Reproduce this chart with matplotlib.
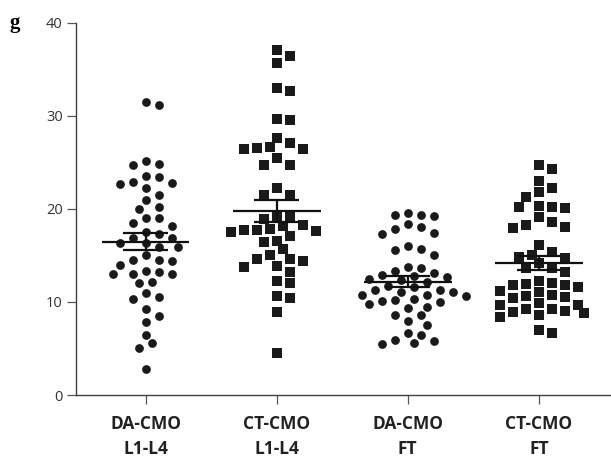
import numpy as np
import matplotlib
matplotlib.use('Agg')
import matplotlib.pyplot as plt

groups = ['DA-CMO\nL1-L4', 'CT-CMO\nL1-L4', 'DA-CMO\nFT', 'CT-CMO\nFT']

da_l14 = [31.2, 31.5, 24.8, 24.7, 25.2, 23.5, 22.9, 22.7, 22.8, 22.3, 23.4, 21.5,
          21.0, 20.2, 20.0, 19.0, 19.0, 18.2, 18.5, 17.5, 17.3, 16.9, 16.9, 16.3,
          16.3, 15.9, 15.9, 14.5, 14.4, 14.5, 15.0, 14.0, 13.3, 13.0, 13.0, 13.0,
          13.2, 12.0, 12.2, 10.5, 10.3, 11.0, 9.2, 7.8, 8.5, 6.5, 5.6, 5.1, 2.8]
ct_l14 = [37.1, 36.5, 35.7, 32.7, 33.0, 29.7, 29.6, 27.6, 27.1, 26.6, 26.4, 26.4,
          26.7, 25.5, 24.7, 24.7, 22.3, 21.5, 21.5, 19.1, 19.1, 18.9, 18.3, 17.9,
          17.7, 18.2, 17.1, 17.5, 17.6, 17.7, 16.4, 16.6, 15.7, 14.6, 14.4, 14.6,
          15.1, 13.8, 13.9, 13.2, 12.3, 12.0, 10.4, 10.6, 8.9, 4.5]
da_ft = [19.4, 19.2, 19.4, 19.6, 18.1, 18.4, 17.4, 17.3, 17.8, 16.0, 15.6, 15.1,
         15.7, 13.8, 13.3, 12.9, 12.7, 12.4, 12.5, 12.8, 13.1, 13.7, 12.1, 11.6,
         11.3, 11.1, 10.8, 11.1, 11.3, 11.7, 10.7, 10.3, 10.1, 9.8, 9.4, 9.5,
         10.0, 10.2, 10.6, 8.6, 8.0, 7.5, 8.6, 6.5, 5.9, 5.5, 5.6, 5.8, 6.7]
ct_ft = [24.7, 24.3, 23.0, 22.3, 21.8, 21.3, 20.2, 20.1, 20.2, 20.3, 19.1, 18.6,
         18.1, 18.0, 18.3, 16.1, 15.4, 15.1, 14.7, 14.8, 14.2, 13.7, 13.7, 13.2,
         12.3, 11.9, 11.8, 11.6, 11.8, 12.0, 11.2, 10.8, 10.5, 10.4, 10.6, 11.1,
         9.9, 9.7, 9.2, 8.9, 8.6, 8.4, 8.8, 9.0, 9.3, 9.7, 6.7, 7.0]

# mean and SEM
means = [16.5, 19.8, 12.2, 14.2]
sems = [0.9, 1.2, 0.55, 0.75]

data = [da_l14, ct_l14, da_ft, ct_ft]
markers = ['o', 's', 'o', 's']
sizes = [6.3, 6.8, 6.3, 6.8]

fig = plt.figure(figsize=(6.11, 4.59), dpi=100)
ax = fig.add_axes([0.1244, 0.1394, 0.8756, 0.8106])
ax.set_xlim(-0.53, 3.55)
ax.set_ylim(0, 40)


def swarm(vals, diam_px, step_px):
    # prism-like scatter: points pushed sideways on a grid until they don't collide
    ypx = ax.transData.transform(np.column_stack([np.zeros(len(vals)), vals]))[:, 1]
    order = np.argsort(-ypx)
    placed = []
    xs = np.zeros(len(vals))
    cands = [0.0]
    for j in range(1, 30):
        cands += [j * step_px, -j * step_px]
    for i in order:
        y = ypx[i]
        for c in cands:
            ok = all((c - px) ** 2 + (y - py) ** 2 >= diam_px ** 2 for (px, py) in placed)
            if ok:
                xs[i] = c
                placed.append((c, y))
                break
    px_per_unit = ax.transData.transform((1, 0))[0] - ax.transData.transform((0, 0))[0]
    return xs / px_per_unit


for k, vals in enumerate(data):
    vals = np.array(vals)
    off = swarm(vals, 10.5, 6.5)
    ax.plot(k + off, vals, linestyle='none', marker=markers[k], markersize=sizes[k],
            color='#1a1a1a', markeredgewidth=0, zorder=2)
    m, sem = means[k], sems[k]
    ax.hlines(m, k - 0.335, k + 0.335, color='#111111', lw=1.6, zorder=3)
    ax.hlines([m - sem, m + sem], k - 0.17, k + 0.17, color='#111111', lw=1.6, zorder=3)
    ax.vlines(k, m - sem, m + sem, color='#111111', lw=1.6, zorder=3)

for s in ['top', 'right']:
    ax.spines[s].set_visible(False)
for s in ['left', 'bottom']:
    ax.spines[s].set_color('#404040')
    ax.spines[s].set_linewidth(1.0)

ax.set_yticks([0, 10, 20, 30, 40])
ax.set_xticks(range(4))
ax.set_xticklabels(groups, fontfamily='Open Sans', fontweight='bold', fontsize=12.5,
                   color='#222222', linespacing=1.5)
ax.tick_params(axis='y', direction='out', length=6.5, width=0.9, color='#555555',
               labelsize=10.5, labelcolor='#333333', pad=3)
ax.tick_params(axis='x', direction='out', length=6.5, width=0.9, color='#555555', pad=8)
for t in ax.get_yticklabels():
    t.set_fontfamily('Open Sans')

fig.text(0.015, 0.95, 'g', fontfamily='Liberation Serif', fontweight='bold',
         fontsize=15, va='center', ha='left')

fig.savefig('out.png', dpi=100)
